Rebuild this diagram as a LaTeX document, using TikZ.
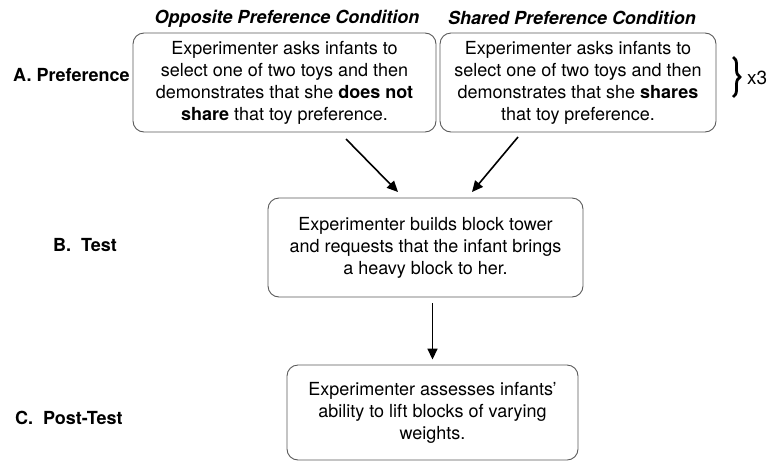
\documentclass[tikz,border=0pt]{standalone}
\usepackage{fontspec}
\setmainfont{TeX Gyre Heros}
\usetikzlibrary{arrows.meta,decorations.pathreplacing}
\begin{document}
\begin{tikzpicture}[x=1pt,y=-1pt,
  box/.style={draw=black!65,line width=0.9pt,rounded corners=11pt,align=center,
    inner sep=0pt,font=\fontsize{18}{22}\selectfont},
  lab/.style={anchor=west,inner sep=0pt,font=\fontsize{18}{22}\selectfont\bfseries},
  ttl/.style={inner sep=0pt,font=\fontsize{18}{22}\selectfont\bfseries\itshape},
  arr/.style={line width=1.6pt,-{Triangle[length=11pt,width=10pt]}}]
\useasboundingbox (0,0) rectangle (773,464);
\node[ttl] (t1) at (287,19) {Opposite Preference Condition};
\node[ttl] (t2) at (572,18) {Shared Preference Condition};
\node[box,minimum width=303pt,minimum height=99pt] (a1) at (284.5,82.5)
  {Experimenter asks infants to\\select one of two toys and then\\demonstrates that she \textbf{does not}\\\textbf{share} that toy preference.};
\node[box,minimum width=276pt,minimum height=99pt] (a2) at (578,82.5)
  {Experimenter asks infants to\\select one of two toys and then\\demonstrates that she \textbf{shares}\\that toy preference.};
\node[box,minimum width=315pt,minimum height=99pt] (b) at (425.5,247.5)
  {Experimenter builds block tower\\and requests that the infant brings\\a heavy block to her.};
\node[box,minimum width=291pt,minimum height=95pt] (c) at (432.5,412.5)
  {Experimenter assesses infants’\\ability to lift blocks of varying\\weights.};
\node[lab] (la) at (13,75) {A. Preference};
\node[lab] (lb) at (53,245) {B.\ \ Test};
\node[lab] (lc) at (15,418) {C.\ \ Post-Test};
\coordinate (p1) at (346,139);
\coordinate (q1) at (398,192);
\coordinate (p2) at (518,137);
\coordinate (q2) at (472,192);
\coordinate (br1) at (733,57);
\coordinate (br2) at (733,97);
\draw[arr] (p1) -- (q1);
\draw[arr] (p2) -- (q2);
\draw[arr,shorten <=6pt,shorten >=5pt] (b.south -| c.north) -- (c.north);
\draw[line width=2.8pt,decorate,decoration={brace,amplitude=7pt}] (br1) -- (br2);
\node[anchor=west,inner sep=0pt,font=\fontsize{19}{22}\selectfont] (x3) at (747,78) {x3};
\end{tikzpicture}
\end{document}
